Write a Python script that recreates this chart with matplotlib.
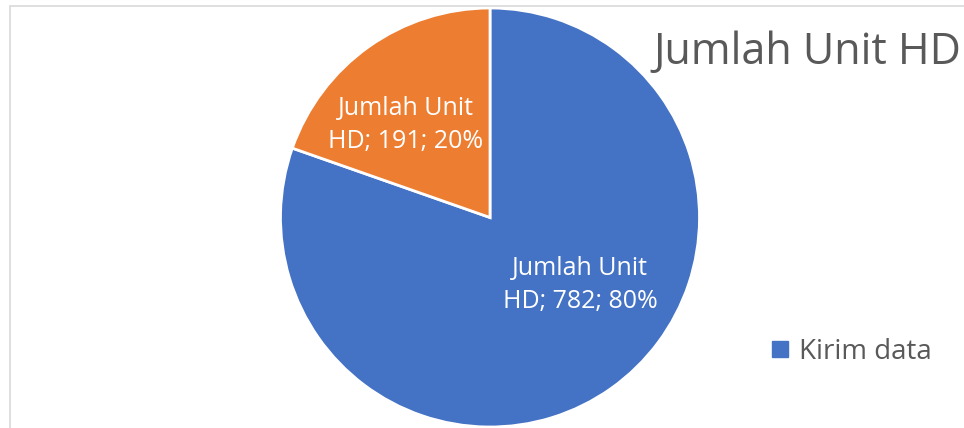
import matplotlib
matplotlib.use("Agg")
import matplotlib.pyplot as plt
from matplotlib.patches import Rectangle
from matplotlib.lines import Line2D

series_name = "Jumlah Unit HD"
categories = ["Kirim data", "Tidak kirim data"]
values = [782, 191]
colors = ["#4472C4", "#ED7D31"]

W, H = 964, 428
fig = plt.figure(figsize=(W / 100, H / 100), dpi=100)
plt.rcParams['font.family'] = ['Open Sans', 'DejaVu Sans']

# chart area border (cropped on right/bottom)
fig.patches.append(Rectangle((10 / W, -0.1), 1.2, 1 - 6 / H + 0.1, transform=fig.transFigure,
                             fill=False, edgecolor="#D9D9D9", linewidth=1.2))

cx, cy, r = 490, 217.5, 209.5
ax = fig.add_axes([(cx - r) / W, (H - cy - r) / H, 2 * r / W, 2 * r / H])
wedges, _ = ax.pie(values, colors=colors, startangle=90, counterclock=False, radius=1,
                   wedgeprops=dict(edgecolor="white", linewidth=2))
ax.set_xlim(-1, 1)
ax.set_ylim(-1, 1)
ax.set_aspect("equal")
ax.axis("off")

total = sum(values)
label_pos = [(0.43, -0.322), (-0.401, 0.442)]
name_a, name_b = series_name.rsplit(' ', 1)
for v, (lx, ly) in zip(values, label_pos):
    ax.text(lx, ly, f"{name_a}\n{name_b}; {v}; {round(100 * v / total)}%",
            ha="center", va="center", color="white", fontsize=18, linespacing=1.4)

fig.text(653 / W, 1 - 64 / H, series_name, ha="left", va="baseline", fontsize=31, color="#595959")

handle = Line2D([], [], marker="s", markersize=11, linestyle="", color=colors[0])
leg = fig.legend([handle], [categories[0]], loc="center left", bbox_to_anchor=(772 / W, 1 - 352 / H),
                 frameon=False, fontsize=20, labelcolor="#595959", handlelength=0.6,
                 handletextpad=0.37, borderpad=0, borderaxespad=0)

fig.savefig("out.png", dpi=100)
